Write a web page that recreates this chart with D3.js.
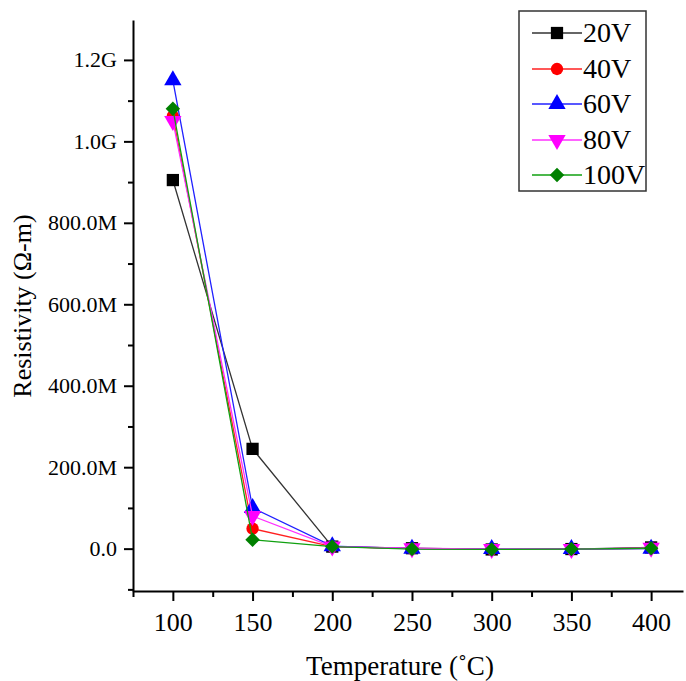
<!DOCTYPE html>
<html>
<head>
<meta charset="utf-8">
<script src="https://cdn.jsdelivr.net/npm/d3@7"></script>
<style>
  body { margin: 0; background: #fff; }
  text { font-family: "Liberation Serif", "Times New Roman", serif; }
</style>
</head>
<body>
<div id="chart"></div>
<script>
// temperatures on the x axis
const temps = [100, 150, 200, 250, 300, 350, 400];
// resistivity in ohm-m, one array per voltage
const v20 = [905e6, 245e6, 5e6, 1e6, -2e6, -1e6, 3e6];
const v40 = [1062e6, 49e6, 5e6, 0, -2e6, -1e6, 1e6];
const v60 = [1150e6, 100e6, 6e6, 0, -1e6, -1e6, 0];
const v80 = [1050e6, 80e6, 5e6, 1e6, -1e6, -1e6, 2e6];
const v100 = [1080e6, 22e6, 5e6, -1e6, -2e6, -1e6, 1e6];
const seriesNames = ["20V", "40V", "60V", "80V", "100V"];
const xTicks = [100, 150, 200, 250, 300, 350, 400];
const yTicks = [0, 200e6, 400e6, 600e6, 800e6, 1000e6, 1200e6];
const yTickLabels = ["0.0", "200.0M", "400.0M", "600.0M", "800.0M", "1.0G", "1.2G"];

const allSeries = [v20, v40, v60, v80, v100];
const colors = ["#000000", "#ff0000", "#0000ff", "#ff00ff", "#008000"];
const lineColors = ["#333333", "#ff2020", "#2020ff", "#ff30ff", "#10a010"];
const symbols = [d3.symbolSquare, d3.symbolCircle, d3.symbolTriangle, "down", "diamond"];
const symSize = [150, 120, 130, 130, 105];

const W = 686, H = 681;
const margin = { top: 20, right: 3, bottom: 90, left: 133 };
const width = W - margin.left - margin.right,
  height = H - margin.top - margin.bottom;

const svg = d3.select("#chart").append("svg")
  .attr("width", W).attr("height", H);
const g = svg.append("g")
  .attr("transform", "translate(" + margin.left + "," + margin.top + ")");

const x = d3.scaleLinear().domain([75, 420]).range([0, width]);
const y = d3.scaleLinear().domain([-104e6, 1298e6]).range([height, 0]);

// minor ticks first
g.append("g")
  .attr("transform", "translate(0," + height + ")")
  .call(d3.axisBottom(x).tickValues(d3.range(75, 420, 50)).tickSize(6).tickFormat(""))
  .call(a => a.select(".domain").remove())
  .selectAll("line").attr("stroke-width", 2);
g.append("g")
  .call(d3.axisLeft(y).tickValues(d3.range(-100e6, 1300e6, 200e6)).tickSize(5).tickFormat(""))
  .call(a => a.select(".domain").remove())
  .selectAll("line").attr("stroke-width", 2);

// major axes
const xAxis = g.append("g")
  .attr("transform", "translate(0," + height + ")")
  .call(d3.axisBottom(x).tickValues(xTicks).tickSize(10).tickSizeOuter(0).tickPadding(12));
const yAxis = g.append("g")
  .call(d3.axisLeft(y).tickValues(yTicks).tickSize(9).tickSizeOuter(0).tickPadding(7)
    .tickFormat((d, i) => yTickLabels[i]));
[xAxis, yAxis].forEach(a => {
  a.select(".domain").attr("stroke-width", 2);
  a.selectAll(".tick line").attr("stroke-width", 2);
  a.selectAll("text").attr("fill", "#000");
});
xAxis.selectAll("text").attr("font-size", 26);
yAxis.selectAll("text").attr("font-size", 22);

// axis titles
svg.append("text")
  .attr("x", 400).attr("y", 675)
  .attr("text-anchor", "middle").attr("font-size", 27)
  .text("Temperature (˚C)");
svg.append("text")
  .attr("transform", "translate(31,306) rotate(-90)")
  .attr("text-anchor", "middle").attr("font-size", 26)
  .text("Resistivity (Ω-m)");

function symbolPath(i, size) {
  if (symbols[i] === "down") {
    return d3.symbol(d3.symbolTriangle, size)();
  }
  if (symbols[i] === "diamond") {
    return d3.symbol(d3.symbolSquare, size)();
  }
  return d3.symbol(symbols[i], size)();
}
function symbolTransform(i, px, py) {
  let rot = "";
  if (symbols[i] === "down") rot = " rotate(180)";
  if (symbols[i] === "diamond") rot = " rotate(45)";
  return "translate(" + px + "," + py + ")" + rot;
}

const line = d3.line()
  .x((d, j) => x(temps[j]))
  .y(d => y(d));

allSeries.forEach((vals, i) => {
  const s = g.append("g");
  s.append("path")
    .datum(vals)
    .attr("d", line)
    .attr("fill", "none")
    .attr("stroke", lineColors[i])
    .attr("stroke-width", 1.3);
  s.selectAll("path.pt")
    .data(vals)
    .enter()
    .append("path")
    .attr("class", "pt")
    .attr("d", symbolPath(i, symSize[i]))
    .attr("transform", (d, j) => symbolTransform(i, x(temps[j]), y(d)))
    .attr("fill", colors[i]);
});

// legend
const legend = svg.append("g");
legend.append("rect")
  .attr("x", 519).attr("y", 11).attr("width", 127).attr("height", 180)
  .attr("fill", "#fff").attr("stroke", "#333").attr("stroke-width", 1.5);
const legY = [33, 69, 104, 140, 175];
seriesNames.forEach((name, i) => {
  legend.append("line")
    .attr("x1", 532).attr("x2", 582)
    .attr("y1", legY[i]).attr("y2", legY[i])
    .attr("stroke", lineColors[i]).attr("stroke-width", 1.3);
  legend.append("path")
    .attr("d", symbolPath(i, symSize[i]))
    .attr("transform", symbolTransform(i, 557, legY[i]))
    .attr("fill", colors[i]);
  legend.append("text")
    .attr("x", 583).attr("y", legY[i] + 9)
    .attr("font-size", 28)
    .text(name);
});
</script>
</body>
</html>
